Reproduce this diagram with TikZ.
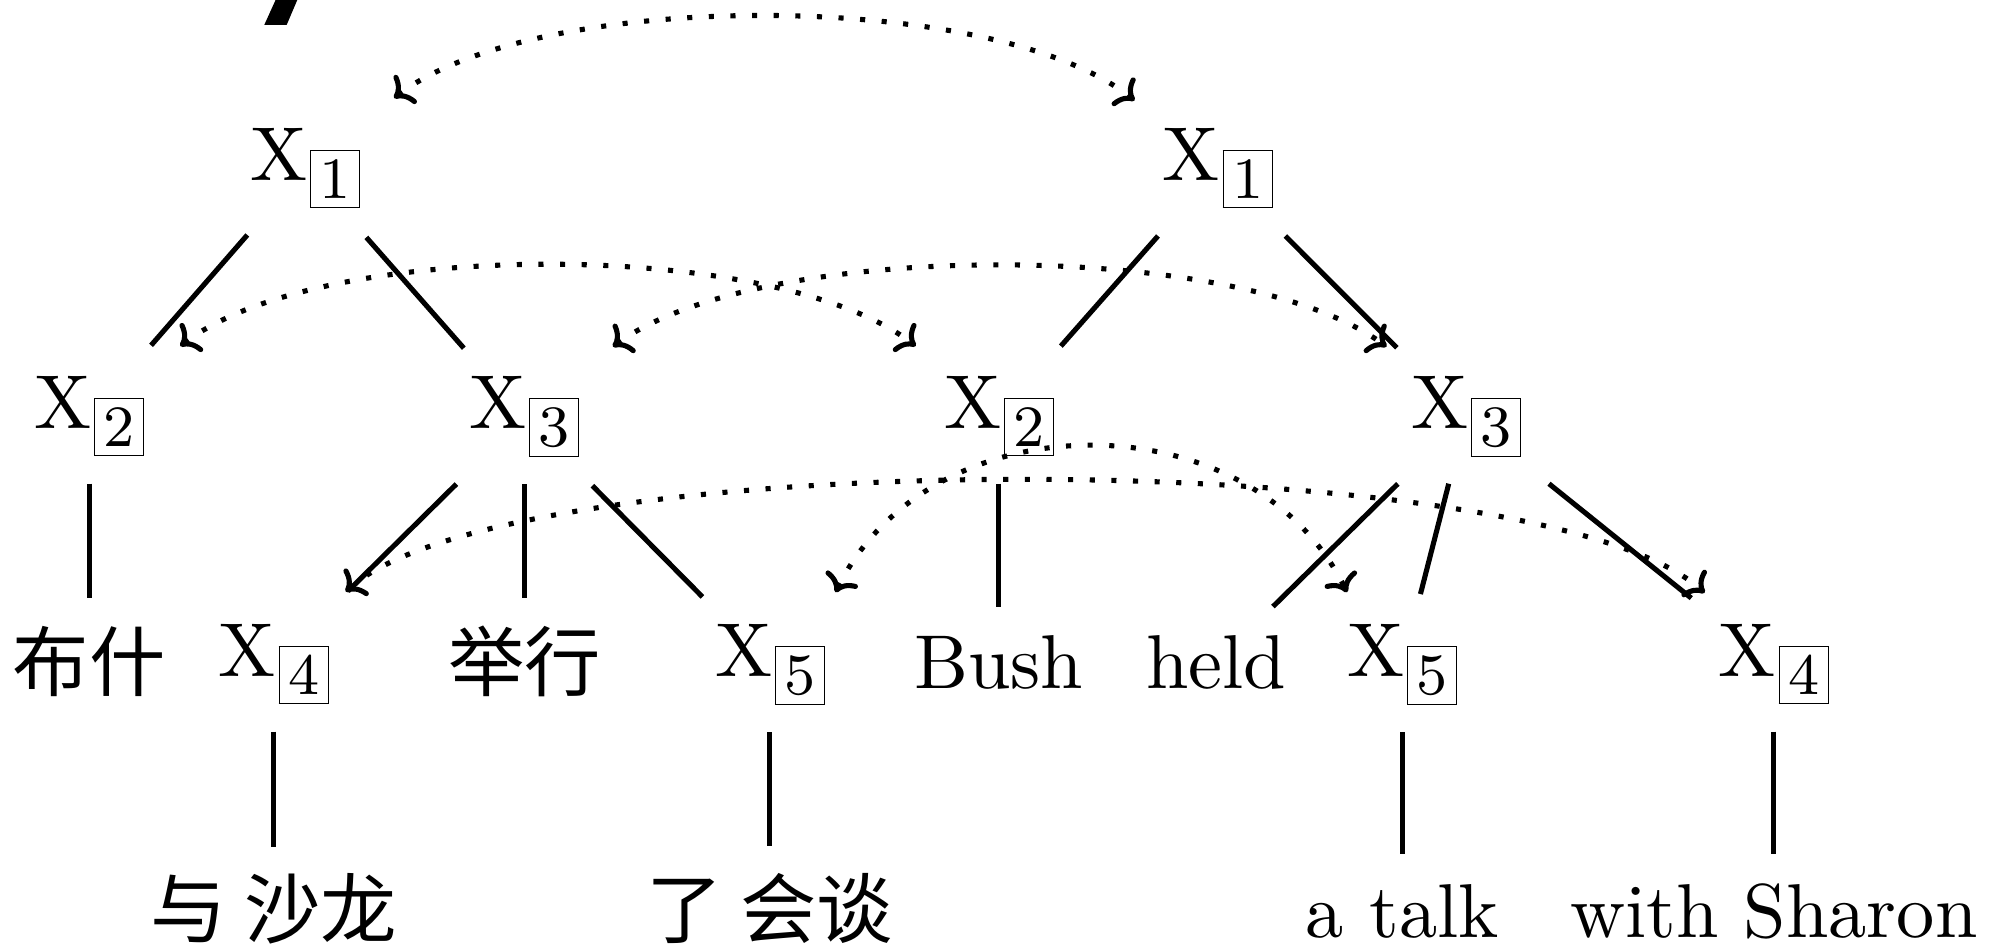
\documentclass[tikz,border=0pt]{standalone}
\usepackage{fontspec}
\setmainfont{lmroman10-regular.otf}
\newfontfamily\subf{lmroman8-regular.otf}
\newfontfamily\cjk{Noto Sans CJK SC}
\usetikzlibrary{arrows.meta}
\newcommand{\xbox}[1]{X\kern1pt\raisebox{-7pt}{\subf\fontsize{23}{23}\selectfont\setlength{\fboxsep}{3.3pt}\setlength{\fboxrule}{0.4pt}\fbox{#1}}}
\begin{document}
\begin{tikzpicture}[x=0.5pt,y=-0.5pt,
  xn/.style={inner sep=0pt, outer sep=0pt, anchor=base west, font=\fontsize{30}{36}\selectfont},
  tx/.style={inner sep=0pt, outer sep=0pt, anchor=base, font=\fontsize{30}{36}\selectfont},
  cj/.style={inner sep=0pt, outer sep=0pt, anchor=base, font=\fontsize{30}{36}\selectfont\cjk},
  edge/.style={line width=2pt},
  link/.style={line width=2pt, dash pattern=on 2pt off 6.5pt, <->,
    >={Computer Modern Rightarrow[length=6.5pt,width=14pt]}}]
\useasboundingbox (0,0) rectangle (1568,744);
% cut-off mark at the top
\fill (217.5,-2) -- (234.5,-2) -- (225.3,19.6) -- (207.7,19.6) -- cycle;
% tree nodes
\node[xn] (x1l) at (197,142) {\xbox{1}};
\node[xn] (x1r) at (914,142) {\xbox{1}};
\node[xn] (x2l) at (27,337) {\xbox{2}};
\node[xn] (x3l) at (369,337) {\xbox{3}};
\node[xn] (x2r) at (742,337) {\xbox{2}};
\node[xn] (x3r) at (1109,337) {\xbox{3}};
\node[xn] (x4l) at (172,532) {\xbox{4}};
\node[xn] (x5l) at (562,532) {\xbox{5}};
\node[xn] (x5r) at (1059,532) {\xbox{5}};
\node[xn] (x4r) at (1351,532) {\xbox{4}};
\node[cj] (bushi) at (x2l.center |- 0,543) {布什};
\node[cj] (juxing) at (x3l.center |- 0,543) {举行};
\node[tx] (bush) at (x2r.center |- 0,541) {Bush};
\node[tx] (held) at (956,541) {held};
\node[cj] (yushalong) at (x4l.center |- 0,737) {与 沙龙};
\node[cj] (lehuitan) at (x5l.center |- 0,737) {了 会谈};
\node[tx] (atalk) at (x5r.center |- 0,737) {a talk};
\node[tx] (withsharon) at (x4r.center |- 0,737) {with Sharon};
% tree edges
\draw[edge, shorten <=34.8pt, shorten >=37pt] (x1l.center) -- (x2l.center);
\draw[edge, shorten <=36.2pt, shorten >=36pt] (x1l.center) -- (x3l.center);
\draw[edge, shorten <=35.5pt, shorten >=36.8pt] (x1r.center) -- (x2r.center);
\draw[edge, shorten <=37.6pt, shorten >=38.4pt] (x1r.center) -- (x3r.center);
\draw[edge, shorten <=26.4pt, shorten >=25pt] (x2l.center) -- (bushi.center);
\draw[edge, shorten <=37.5pt, shorten >=41pt] (x3l.center) -- (x4l.center);
\draw[edge, shorten <=26.4pt, shorten >=25pt] (x3l.center) -- (juxing.center);
\draw[edge, shorten <=38pt, shorten >=37.7pt] (x3l.center) -- (x5l.center);
\draw[edge, shorten <=26.4pt, shorten >=21.6pt] (x2r.center) -- (bush.center);
\draw[edge, shorten <=37.5pt, shorten >=31.2pt] (x3r.center) -- (held.center);
\draw[edge, shorten <=27.1pt, shorten >=28.8pt] (x3r.center) -- (x5r.center);
\draw[edge, shorten <=41.9pt, shorten >=41.6pt] (x3r.center) -- (x4r.center);
\draw[edge, shorten <=26.4pt, shorten >=24.5pt] (x4l.center) -- (yushalong.center);
\draw[edge, shorten <=26.4pt, shorten >=24.5pt] (x5l.center) -- (lehuitan.center);
\draw[edge, shorten <=26.4pt, shorten >=22.5pt] (x5r.center) -- (atalk.center);
\draw[edge, shorten <=26.4pt, shorten >=22.5pt] (x4r.center) -- (withsharon.center);
% alignment links
\draw[link] ([shift={(69.6,-55.2)}]x1l.center) .. controls +(112,-86) and +(-110,-88) .. ([shift={(-65.4,-53.2)}]x1r.center);
\draw[link] ([shift={(71.6,-55.2)}]x2l.center) .. controls +(110,-85) and +(-110,-85) .. ([shift={(-65.4,-55.2)}]x2r.center);
\draw[link] ([shift={(69.6,-55.2)}]x3l.center) .. controls +(115,-85) and +(-115,-85) .. ([shift={(-62.4,-55.2)}]x3r.center);
\draw[link] ([shift={(56.6,-57.2)}]x4l.center) .. controls +(130,-117) and +(-130,-118) .. ([shift={(-54.4,-56.2)}]x4r.center);
\draw[link] ([shift={(51.6,-57.2)}]x5l.center) .. controls +(75,-153) and +(-75,-153) .. ([shift={(-43.4,-57.2)}]x5r.center);
\end{tikzpicture}
\end{document}
